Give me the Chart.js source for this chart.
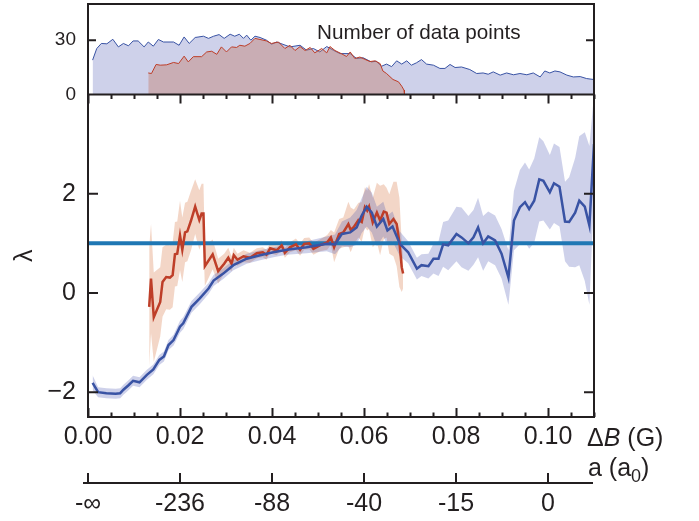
<!DOCTYPE html>
<html>
<head>
<meta charset="utf-8">
<script src="https://cdn.jsdelivr.net/npm/chart.js@4/dist/chart.umd.min.js"></script>
<style>
  html, body { margin: 0; padding: 0; background: #fff; }
</style>
</head>
<body>
<canvas id="c" width="699" height="521"></canvas>
<script>
// lambda vs field offset, blue = all data, red = subset
const blueX = [0.001,0.0022,0.004,0.006,0.007,0.0077,0.0088,0.0098,0.0112,0.0128,0.0142,0.0155,0.0165,0.0175,0.0186,0.02,0.0207,0.0225,0.0243,0.0262,0.0273,0.0294,0.0316,0.0345,0.0374,0.0403,0.0432,0.0475,0.0519,0.0537,0.0552,0.057,0.0584,0.0595,0.0606,0.0617,0.0628,0.0642,0.0651,0.0662,0.0678,0.0696,0.0715,0.0725,0.074,0.0751,0.0762,0.0772,0.0783,0.0801,0.0812,0.0827,0.0838,0.0848,0.0859,0.087,0.0885,0.0899,0.0914,0.0926,0.0939,0.095,0.0959,0.097,0.0981,0.099,0.1004,0.1013,0.1025,0.1037,0.1046,0.1059,0.1068,0.108,0.109,0.11];
const blueY = [-1.81,-2.0,-2.02,-2.03,-2.02,-1.95,-1.86,-1.77,-1.8,-1.65,-1.54,-1.35,-1.28,-1.05,-0.95,-0.68,-0.61,-0.28,-0.11,0.09,0.25,0.39,0.56,0.69,0.76,0.82,0.87,0.92,0.99,0.98,1.19,1.22,1.32,1.56,1.74,1.62,1.34,1.49,1.26,1.34,0.99,0.82,0.49,0.56,0.54,0.69,0.69,0.98,0.96,1.19,1.12,1.0,1.12,1.32,1.0,1.14,1.06,0.79,0.31,1.46,1.73,1.83,1.69,1.86,2.29,2.26,2.03,2.21,2.14,1.44,1.43,1.62,1.86,1.74,1.36,3.0];
const blueErr = [0.15,0.1,0.1,0.1,0.1,0.1,0.1,0.1,0.1,0.1,0.1,0.1,0.1,0.1,0.11,0.12,0.12,0.12,0.12,0.11,0.11,0.11,0.1,0.1,0.1,0.1,0.1,0.12,0.15,0.2,0.25,0.3,0.35,0.35,0.4,0.4,0.4,0.35,0.3,0.3,0.25,0.22,0.22,0.22,0.25,0.3,0.35,0.45,0.5,0.55,0.6,0.55,0.55,0.6,0.55,0.5,0.5,0.5,0.55,0.6,0.75,0.8,0.8,0.85,0.85,0.8,0.75,0.8,0.8,0.8,0.9,1.1,1.3,1.5,1.6,1.0];

const redX = [0.0133,0.0137,0.0143,0.0157,0.0162,0.017,0.0178,0.0184,0.0189,0.0194,0.02,0.0205,0.0211,0.0216,0.0224,0.0233,0.0242,0.0247,0.0251,0.0254,0.0271,0.0283,0.0296,0.0305,0.0312,0.0317,0.0325,0.0338,0.0352,0.0367,0.038,0.0388,0.0396,0.041,0.0421,0.0428,0.0439,0.0452,0.0461,0.047,0.0481,0.049,0.0504,0.052,0.0528,0.0535,0.0546,0.0555,0.0566,0.0571,0.0578,0.0588,0.0595,0.0602,0.0607,0.0611,0.0619,0.0628,0.0635,0.0643,0.0649,0.0655,0.0664,0.0671,0.0677,0.0682,0.0685];
const redY = [-0.28,0.29,-0.49,-0.18,0.22,0.32,0.31,0.36,0.78,0.79,1.16,0.87,1.22,1.24,1.46,1.74,1.47,1.6,1.6,0.54,0.78,0.44,0.59,0.71,0.59,0.76,0.67,0.74,0.71,0.8,0.82,0.77,0.9,0.86,0.96,0.81,0.92,0.98,0.87,0.99,1.0,0.89,0.96,1.02,1.12,0.92,1.19,1.22,1.39,1.27,1.33,1.47,1.43,1.73,1.66,1.74,1.42,1.62,1.46,1.64,1.62,1.39,1.49,1.39,1.02,0.52,0.39];
const redErr = [1.2,1.1,0.9,0.7,0.7,0.65,0.65,0.65,0.65,0.65,0.7,0.65,0.6,0.6,0.6,0.55,0.6,0.6,0.6,0.4,0.3,0.25,0.2,0.2,0.15,0.15,0.12,0.12,0.1,0.1,0.1,0.1,0.1,0.1,0.1,0.1,0.1,0.12,0.12,0.12,0.12,0.12,0.12,0.15,0.15,0.3,0.3,0.3,0.45,0.45,0.35,0.35,0.4,0.4,0.4,0.45,0.5,0.6,0.7,0.55,0.5,0.6,0.75,0.85,0.9,0.5,0.3];

// number of data points (top panel)
const blueCountX = [0.001,0.0019,0.0029,0.0041,0.0054,0.0066,0.0077,0.0088,0.0098,0.0109,0.0122,0.0131,0.0142,0.0153,0.0164,0.0186,0.0198,0.0209,0.022,0.0233,0.0251,0.0262,0.0273,0.0285,0.0296,0.0309,0.0319,0.0329,0.0338,0.0345,0.0354,0.0363,0.0374,0.0388,0.0399,0.041,0.0439,0.0461,0.0475,0.049,0.0504,0.0519,0.0533,0.0548,0.057,0.0584,0.0598,0.0616,0.0627,0.0638,0.0649,0.066,0.0671,0.0682,0.0693,0.0703,0.0714,0.0725,0.0736,0.0751,0.0765,0.0776,0.0787,0.0798,0.0812,0.083,0.0845,0.0859,0.087,0.0881,0.0896,0.091,0.0925,0.0939,0.0954,0.0968,0.0983,0.0993,0.1004,0.1015,0.1026,0.1041,0.1055,0.107,0.1084,0.1099];
const blueCount = [19,25.4,28.2,28,30.5,26.3,28.2,26.9,29.6,29.6,26.3,29,26.7,30.4,29,29,27.2,31.8,28.2,31.5,32.2,31,32.2,33.1,31,33.3,32.2,33.3,31,32.8,30,32.2,31.5,30,27.8,29,26.3,27.2,24.5,25.4,23.5,26.5,24.5,22.6,22.6,19.9,20.3,18,18.4,15.6,16.8,15.4,18.6,16.8,18.6,16.2,17.5,19.3,16.8,16.2,14.4,14.4,16.6,14.9,15.2,13.8,11.6,11.9,11.2,12.5,10.7,11.9,10.9,11.6,10.9,11.9,9.7,13,11.9,13,12.5,10.7,9.7,9.9,8.8,8.3];
const redCountX = [0.0131,0.0138,0.0148,0.0157,0.0171,0.0186,0.0197,0.0209,0.0218,0.0229,0.0247,0.0258,0.0269,0.028,0.029,0.0301,0.0312,0.0323,0.033,0.0341,0.0352,0.0363,0.0374,0.0388,0.0399,0.0414,0.0428,0.0439,0.045,0.0461,0.0472,0.0483,0.0493,0.0508,0.0519,0.0526,0.0537,0.0552,0.0562,0.057,0.058,0.0591,0.0602,0.0613,0.0624,0.0635,0.0641,0.0649,0.0663,0.0675,0.0682,0.0687,0.0688];
const redCount = [11.9,11.6,16.6,16.2,16.4,17.7,17.1,21.2,18,20.9,20.9,23.5,23.9,22.2,26.3,23.5,26.3,26,27.2,26.7,28.2,31,30.4,29.6,28.2,29,25.4,27.2,24.3,26.5,24.3,26,23,25.4,23,26.5,24.3,22.4,21,23.5,19.9,20.7,19.4,18.2,18.6,17.1,13,11.6,8.3,7,4.6,2.4,0];

const refLevel = 1;
const xTicks = [0, 0.02, 0.04, 0.06, 0.08, 0.10];
const aLabels = ['-\u221E', '-236', '-88', '-40', '-15', '0'];
const yTicks = [-2, 0, 2];
const countTicks = [0, 30];

const INK = '#231f20';
const FONT = "'Liberation Sans', Arial, sans-serif";
const BLUE = 'rgb(57,83,164)';
const RED = 'rgb(190,62,40)';

const pts = (xs, ys) => xs.map((x, i) => ({x, y: ys[i]}));
const band = (xs, ys, es, s) => xs.map((x, i) => ({x, y: ys[i] + s * es[i]}));
const noPad = s => { s.paddingTop = 0; s.paddingBottom = 0; s.paddingLeft = 0; s.paddingRight = 0; };

const frame = {
  id: 'frame',
  afterDraw(chart) {
    const ctx = chart.ctx;
    const {x, x2, y, yTop} = chart.scales;
    ctx.save();
    ctx.strokeStyle = INK;
    ctx.lineWidth = 2;
    ctx.strokeRect(x.left, yTop.top, x.right - x.left, y.bottom - yTop.top);
    ctx.beginPath();
    ctx.moveTo(x.left, y.top); ctx.lineTo(x.right, y.top);
    // minor + major ticks on main panel, inward
    for (let v = 0; v <= 0.1101; v += 0.005) {
      const px = Math.round(x.getPixelForValue(v)) + 0.5;
      const major = Math.abs(v / 0.02 - Math.round(v / 0.02)) < 1e-6;
      const len = major ? 9 : 4.5;
      ctx.moveTo(px, y.bottom); ctx.lineTo(px, y.bottom - len);
      ctx.moveTo(px, y.top); ctx.lineTo(px, y.top + len);
    }
    yTicks.forEach(v => {
      const py = y.getPixelForValue(v);
      ctx.moveTo(x.left, py); ctx.lineTo(x.left + 10, py);
      ctx.moveTo(x.right, py); ctx.lineTo(x.right - 10, py);
    });
    countTicks.forEach(v => {
      const py = yTop.getPixelForValue(v);
      ctx.moveTo(x.left, py); ctx.lineTo(x.left + 8, py);
      ctx.moveTo(x.right, py); ctx.lineTo(x.right - 8, py);
    });
    ctx.stroke();
    // secondary a(a0) axis
    ctx.beginPath();
    const ay = x2.top;
    ctx.moveTo(x.left - 5, ay); ctx.lineTo(x.right - 1, ay);
    xTicks.forEach(v => {
      const px = x2.getPixelForValue(v);
      ctx.moveTo(px, ay); ctx.lineTo(px, ay - 10);
    });
    ctx.stroke();

    // texts
    ctx.fillStyle = INK;
    ctx.textBaseline = 'alphabetic';
    ctx.textAlign = 'left';
    ctx.font = '20.7px ' + FONT;
    ctx.fillText('Number of data points', 317, 39);

    let tx = 587;
    const by = 446;
    ctx.font = '25px ' + FONT;
    ctx.fillText('\u0394', tx, by); tx += ctx.measureText('\u0394').width;
    ctx.font = 'italic 25px ' + FONT;
    ctx.fillText('B', tx, by); tx += ctx.measureText('B').width;
    ctx.font = '25px ' + FONT;
    ctx.fillText(' (G)', tx, by);

    tx = 588;
    const ay2 = 476;
    ctx.fillText('a (a', tx, ay2); tx += ctx.measureText('a (a').width;
    ctx.font = '18px ' + FONT;
    ctx.fillText('0', tx, ay2 + 6); tx += ctx.measureText('0').width;
    ctx.font = '25px ' + FONT;
    ctx.fillText(')', tx, ay2);
    ctx.restore();
  }
};

const tickFont = {family: FONT, size: 25};

new Chart(document.getElementById('c'), {
  type: 'line',
  data: {
    datasets: [
      {label: 'blue', data: pts(blueX, blueY), borderColor: BLUE, borderWidth: 2.5, pointRadius: 0, fill: false, order: 0},
      {label: 'red', data: pts(redX, redY), borderColor: RED, borderWidth: 2.5, pointRadius: 0, fill: false, order: 1},
      {label: 'ref', data: [{x: 0, y: refLevel}, {x: 0.11, y: refLevel}], borderColor: 'rgb(31,119,180)', borderWidth: 4, pointRadius: 0, fill: false, order: 2},
      {label: 'blueHi', data: band(blueX, blueY, blueErr, 1), borderWidth: 0, pointRadius: 0, backgroundColor: 'rgba(60,70,170,0.25)', fill: '+1', order: 3},
      {label: 'blueLo', data: band(blueX, blueY, blueErr, -1), borderWidth: 0, pointRadius: 0, fill: false, order: 4},
      {label: 'redHi', data: band(redX, redY, redErr, 1), borderWidth: 0, pointRadius: 0, backgroundColor: 'rgba(215,120,70,0.3)', fill: '+1', order: 5},
      {label: 'redLo', data: band(redX, redY, redErr, -1), borderWidth: 0, pointRadius: 0, fill: false, order: 6},
      {label: 'redCount', data: pts(redCountX, redCount), yAxisID: 'yTop', borderColor: RED, borderWidth: 1, pointRadius: 0, backgroundColor: 'rgba(195,125,105,0.42)', fill: 'origin', order: 7},
      {label: 'blueCount', data: pts(blueCountX, blueCount), yAxisID: 'yTop', borderColor: BLUE, borderWidth: 1, pointRadius: 0, backgroundColor: 'rgba(60,70,170,0.25)', fill: 'origin', order: 8}
    ]
  },
  options: {
    responsive: false,
    animation: false,
    layout: {autoPadding: false, padding: {left: 0, right: 105, top: 4, bottom: 0}},
    plugins: {legend: {display: false}, tooltip: {enabled: false}},
    elements: {line: {tension: 0}},
    scales: {
      x: {
        type: 'linear', position: 'bottom', min: 0, max: 0.11,
        afterBuildTicks: s => { s.ticks = xTicks.map(v => ({value: v})); },
        afterFit: s => { s.height = 66; noPad(s); },
        grid: {display: false, drawTicks: false}, border: {display: false},
        ticks: {font: tickFont, color: INK, padding: 5, maxRotation: 0, callback: v => v.toFixed(2)}
      },
      x2: {
        type: 'linear', position: 'bottom', min: 0, max: 0.11,
        afterBuildTicks: s => { s.ticks = xTicks.map(v => ({value: v})); },
        afterFit: s => { s.height = 38; noPad(s); },
        grid: {display: false, drawTicks: false}, border: {display: false},
        ticks: {font: tickFont, color: INK, padding: 6, maxRotation: 0, callback: (v, i) => aLabels[i]}
      },
      y: {
        type: 'linear', position: 'left', min: -2.5, max: 4,
        stack: 'panels', stackWeight: 322.5,
        afterBuildTicks: s => { s.ticks = yTicks.map(v => ({value: v})); },
        afterFit: s => { s.width = 88; noPad(s); },
        grid: {display: false, drawTicks: false}, border: {display: false},
        title: {display: true, text: '\u03BB', font: {family: FONT, size: 25}, color: INK, padding: {top: 10, bottom: 0}},
        ticks: {font: tickFont, color: INK, padding: 12, callback: v => v < 0 ? '\u2212' + Math.abs(v) : String(v)}
      },
      yTop: {
        type: 'linear', position: 'left', min: 0, max: 50,
        stack: 'panels', stackWeight: 90.5,
        afterBuildTicks: s => { s.ticks = countTicks.map(v => ({value: v})); },
        afterFit: s => { s.width = 88; noPad(s); },
        grid: {display: false, drawTicks: false}, border: {display: false},
        ticks: {font: {family: FONT, size: 19}, color: INK, padding: 12}
      }
    }
  },
  plugins: [frame]
});
</script>
</body>
</html>
